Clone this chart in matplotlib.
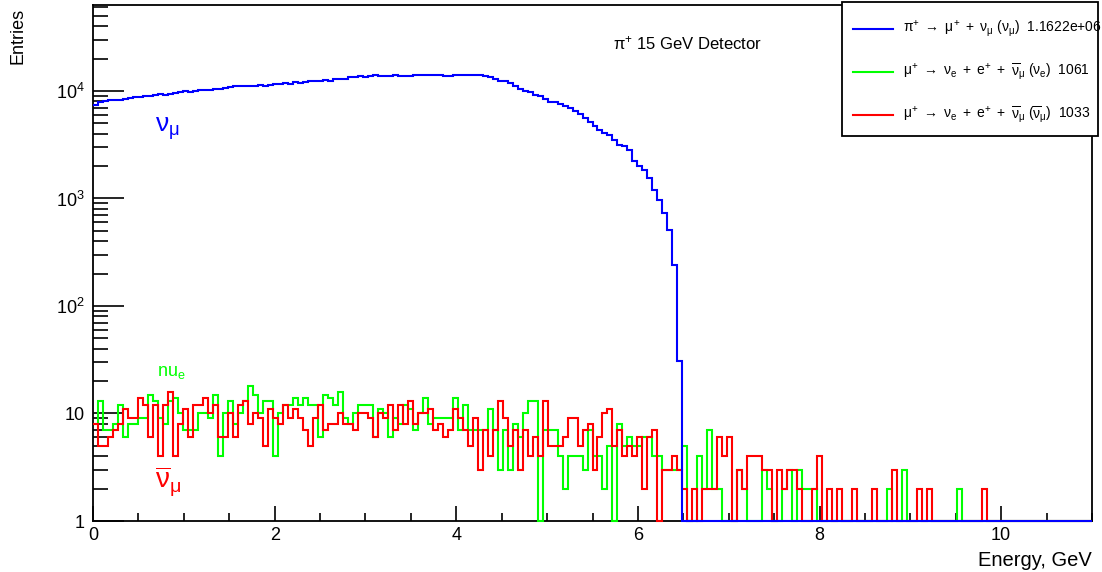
import numpy as np
import matplotlib
matplotlib.use("Agg")
import matplotlib.pyplot as plt
from matplotlib.lines import Line2D
from matplotlib.patches import Rectangle

plt.rcParams['font.family'] = ['Liberation Sans', 'DejaVu Sans']
plt.rcParams['mathtext.fontset'] = 'custom'
plt.rcParams['mathtext.rm'] = 'Liberation Sans'
plt.rcParams['mathtext.it'] = 'Liberation Sans:italic'
plt.rcParams['mathtext.sf'] = 'Liberation Sans'

# ---- data: 200 bins over 0..11 GeV ----
n_bins = 200
e_min, e_max = 0.0, 11.0

numu = [7400, 7900, 8000, 8200, 8300, 8200, 8500, 8600, 8800, 8700,
        8900, 9000, 9200, 9300, 9200, 9400, 9500, 9800, 9900, 9800,
        10000, 10200, 10300, 10300, 10500, 10400, 10700, 10900, 11000, 11100,
        11000, 11200, 11100, 11300, 11200, 11400, 11600, 11700, 11800, 11700,
        12000, 11900, 12100, 12300, 12400, 12300, 12600, 12500, 12800, 12900,
        13000, 13500, 13600, 13700, 13600, 13900, 14000, 13800, 13700, 13800,
        14000, 13800, 13700, 13800, 14100, 14200, 14100, 14200, 14100, 14000,
        13900, 13800, 14000, 14100, 14000, 14100, 14000, 14000, 13900, 13400,
        12900, 12400, 12300, 11800, 11000, 10400, 10000, 9700, 9150, 8900,
        8400, 7950, 7850, 7600, 7200, 6900, 6500, 6100, 5600, 5100,
        4700, 4300, 4100, 3900, 3500, 3150, 3050, 2800, 2250, 2000,
        1830, 1560, 1200, 960, 730, 510, 240, 31]

nue = [8, 13, 7, 7, 8, 12, 6, 8, 8, 9,          # 0-9
       9, 15, 13, 9, 8, 13, 14, 10, 7, 7,       # 10-19
       7, 10, 10, 9, 15, 4, 10, 13, 8, 10,      # 20-29
       13, 18, 15, 10, 13, 13, 4, 10, 12, 12,   # 30-39
       14, 12, 14, 12, 12, 6, 15, 14, 12, 16,   # 40-49
       9, 8, 10, 12, 12, 12, 6, 11, 10, 6,      # 50-59
       9, 8, 12, 11, 7, 10, 14, 8, 9, 9,        # 60-69
       9, 9, 14, 7, 12, 7, 7, 7, 7, 11,         # 70-79
       7, 3, 7, 3, 8, 6, 10, 13, 13, 0,         # 80-89
       7, 7, 7, 4, 2, 4, 4, 4, 3, 7,            # 90-99
       4, 4, 2, 5, 0, 8, 5, 6, 5, 5,            # 100-109
       6, 6, 4, 4, 3, 3, 3, 3, 5, 0,            # 110-119
       0, 4, 2, 7, 2, 2, 0, 0, 0, 3,            # 120-129
       2, 0, 0, 0, 3, 2, 0, 0, 2, 3,            # 130-139
       0, 3, 2, 2, 2, 0, 0, 0, 0, 0,            # 140-149
       0, 0, 0, 0, 0, 0, 0, 0, 0, 2,            # 150-159
       0, 0, 3, 0, 0, 0, 0, 0, 0, 0,            # 160-169
       0, 0, 0, 2, 0, 0, 0, 0, 0, 0,            # 170-179
       0, 0, 0, 0, 0, 0, 0, 0, 0, 0,
       0, 0, 0, 0, 0, 0, 0, 0, 0, 0]

numubar = [8, 5, 5, 6, 7, 8, 11, 9, 9, 14,      # 0-9
           12, 6, 12, 4, 12, 16, 4, 8, 11, 6,   # 10-19
           12, 12, 14, 10, 12, 6, 6, 10, 6, 12, # 20-29
           13, 8, 10, 9, 5, 11, 9, 8, 12, 9,    # 30-39
           11, 9, 7, 5, 9, 12, 7, 8, 8, 10,     # 40-49
           8, 8, 7, 10, 10, 9, 6, 10, 9, 12,    # 50-59
           7, 12, 8, 13, 8, 10, 10, 11, 7, 8,   # 60-69
           6, 7, 11, 9, 7, 5, 9, 3, 7, 4,       # 70-79
           7, 13, 9, 5, 7, 3, 7, 4, 6, 4,       # 80-89
           13, 5, 5, 5, 6, 9, 9, 5, 7, 8,       # 90-99
           3, 6, 10, 11, 5, 7, 4, 5, 4, 6,      # 100-109
           2, 6, 7, 0, 3, 3, 4, 3, 2, 0,        # 110-119
           2, 0, 2, 2, 2, 6, 4, 6, 0, 3,        # 120-129
           2, 4, 4, 4, 3, 3, 0, 3, 2, 3,        # 130-139
           3, 2, 0, 0, 2, 4, 0, 2, 0, 2,        # 140-149
           0, 0, 2, 0, 0, 0, 2, 0, 0, 0,        # 150-159
           3, 0, 0, 0, 0, 2, 0, 2, 0, 0,        # 160-169
           0, 0, 0, 0, 0, 0, 0, 0, 2, 0,        # 170-179
           0, 0, 0, 0, 0, 0, 0, 0, 0, 0,
           0, 0, 0, 0, 0, 0, 0, 0, 0, 0]

x_ticks = [0, 2, 4, 6, 8, 10]
y_ticks = [1, 10, 100, 1000, 10000]
y_ticklabels = ['1', '10', r'$10^{2}$', r'$10^{3}$', r'$10^{4}$']

legend_labels = [r'$\mathrm{\pi^{+}\ \rightarrow\ \mu^{+}\ +\ \nu_{\mu}\ (\nu_{\mu})}$  1.1622e+06',
                 r'$\mathrm{\mu^{+}\ \rightarrow\ \nu_{e}\ +\ e^{+}\ +\ \overline{\nu}_{\mu}\ (\nu_{e})}$  1061',
                 r'$\mathrm{\mu^{+}\ \rightarrow\ \nu_{e}\ +\ e^{+}\ +\ \overline{\nu}_{\mu}\ (\overline{\nu}_{\mu})}$  1033']
colors = ['#0000ff', '#00ff00', '#ff0000']

# ---- figure ----
W, H = 1102, 572
fig = plt.figure(figsize=(W / 100, H / 100), dpi=100)
L, R, T, B = 93, 1092, 5, 521
ax = fig.add_axes([L / W, 1 - B / H, (R - L) / W, (B - T) / H])

edges = np.linspace(e_min, e_max, n_bins + 1)
ymin, ymax = 1.0, 6.3e4

def full(vals):
    v = np.zeros(n_bins)
    v[:len(vals)] = vals
    return np.where(v < ymin, ymin, v)

ax.stairs(full(nue), edges, baseline=None, color=colors[1], lw=1.5, zorder=3, clip_on=False)
ax.stairs(full(numubar), edges, baseline=None, color=colors[2], lw=1.5, zorder=3.1, clip_on=False)
ax.stairs(full(numu), edges, baseline=None, color=colors[0], lw=1.5, zorder=3.2, clip_on=False)

ax.set_yscale('log')
ax.set_xlim(e_min, e_max)
ax.set_ylim(ymin, ymax)

for s in ax.spines.values():
    s.set_linewidth(1.3)
    s.set_color('black')

ax.set_xticks(x_ticks)
ax.set_xticklabels([str(t) for t in x_ticks], fontsize=13)
ax.set_xticks(np.arange(0, 11.01, 0.5), minor=True)
ax.tick_params(axis='x', which='major', direction='in', length=11, width=1.2, pad=4)
ax.tick_params(axis='x', which='minor', direction='in', length=6, width=1.2)
ax.set_yticks(y_ticks)
ax.set_yticklabels(y_ticklabels, fontsize=13)
ax.yaxis.set_minor_locator(matplotlib.ticker.LogLocator(base=10, subs=np.arange(2, 10)))
ax.yaxis.set_minor_formatter(matplotlib.ticker.NullFormatter())
ax.tick_params(axis='y', which='major', direction='in', length=22, width=1.2, pad=6)
ax.tick_params(axis='y', which='minor', direction='in', length=11, width=1.2)

fig.text(1092 / W, 1 - 560 / H, 'Energy, GeV', ha='right', va='center', fontsize=14.5)
fig.text(18 / W, 1 - 8 / H, 'Entries', ha='center', va='top', rotation=90, fontsize=13)

fig.text(613 / W, 1 - 43 / H, r'$\mathrm{\pi^{+}}$ 15 GeV Detector', ha='left', va='center',
         fontsize=12)

ax.text(0.68, 4500, r'$\mathrm{\nu_{\mu}}$', color=colors[0], fontsize=19, ha='left', va='center')
ax.text(0.70, 24, r'nu$_{\mathrm{e}}$', color=colors[1], fontsize=13, ha='left', va='center')
ax.text(0.68, 2.3, r'$\mathrm{\overline{\nu}_{\mu}}$', color=colors[2], fontsize=20,
        ha='left', va='center')

# legend box
lx0, lx1, ly0, ly1 = 842, 1098, 2, 136
fig.add_artist(Rectangle((lx0 / W, 1 - ly1 / H), (lx1 - lx0) / W, (ly1 - ly0) / H,
                         transform=fig.transFigure, fill=True, facecolor='white',
                         edgecolor='black', lw=1.3, zorder=5))
for i, (lab, c) in enumerate(zip(legend_labels, colors)):
    yy = 1 - (29 + 43 * i) / H
    fig.add_artist(Line2D([853 / W, 893 / W], [yy, yy], transform=fig.transFigure,
                          color=c, lw=1.5, zorder=6))
    fig.text(903 / W, yy, lab, ha='left', va='center', fontsize=10, zorder=6)

fig.savefig('out.png', dpi=100)
